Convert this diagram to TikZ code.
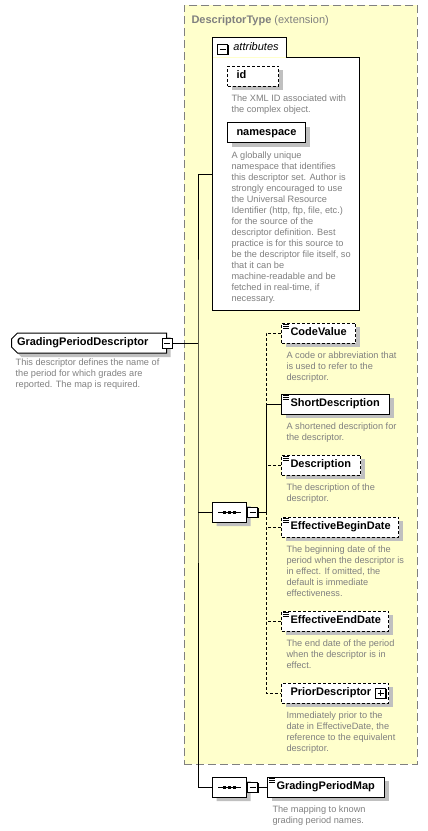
\documentclass[tikz,border=0pt]{standalone}
\usepackage{fontspec}
\setmainfont{Liberation Sans}
\usetikzlibrary{positioning}
\usetikzlibrary{shapes.misc}
\usetikzlibrary{shadows}

\definecolor{extfill}{HTML}{FFFFCC}
\definecolor{extline}{HTML}{808080}
\definecolor{descgray}{HTML}{808080}
\definecolor{shade}{HTML}{C0C0C0}

\newcommand{\namefont}{\fontsize{11}{13}\selectfont\bfseries\hyphenpenalty=10000}
\newcommand{\descfont}{\fontsize{9.2}{11}\selectfont\hyphenpenalty=10000}

\begin{document}
\begin{tikzpicture}[x=1pt, y=-1pt, line width=1pt,
    elem/.style={rectangle, draw=black, fill=white, minimum height=20pt,
      inner xsep=9pt, inner ysep=0pt, text width=#1, align=left, font=\namefont,
      text height=8pt, text depth=2.5pt,
      drop shadow={shadow xshift=4pt, shadow yshift=-4pt, fill=shade, opacity=1}},
    optional/.style={dash pattern=on 3pt off 2pt},
    desc/.style={inner sep=0pt, align=left, text=descgray, font=\descfont},
    toggle/.style={rectangle, draw=black, fill=white, minimum size=10pt, inner sep=0pt,
      drop shadow={shadow xshift=1pt, shadow yshift=-1pt, fill=black, opacity=1}},
    minusbox/.style={toggle, path picture={
      \draw ([xshift=2pt]path picture bounding box.west) -- ([xshift=-2pt]path picture bounding box.east);}},
    plusbox/.style={toggle, path picture={
      \draw ([xshift=2pt]path picture bounding box.west) -- ([xshift=-2pt]path picture bounding box.east);
      \draw ([yshift=-2pt]path picture bounding box.north) -- ([yshift=2pt]path picture bounding box.south);}},
    seq/.style={chamfered rectangle, chamfered rectangle sep=6pt, draw=black, fill=white,
      minimum width=34pt, minimum height=20pt, inner sep=0pt,
      drop shadow={shadow xshift=4pt, shadow yshift=-4pt, fill=shade, opacity=1}}]

  \useasboundingbox (0,0) rectangle (428,831);

  % extension box
  \node[draw=extline, fill=extfill, dash pattern=on 8pt off 4pt, line width=0.8pt,
    minimum width=233pt, minimum height=759pt, inner sep=0pt, anchor=north west] (ext) at (184,5) {};
  \node[inner sep=0pt, text=descgray, font=\namefont, below right=10pt and 7pt of ext.north west]
    (exttitle) {DescriptorType \textmd{(extension)}};

  % attributes
  \node[fill=white, minimum width=146pt, minimum height=252pt, inner sep=0pt, anchor=north west] (attr) at (212,57) {};
  \node[fill=white, minimum width=73pt, minimum height=19pt, inner sep=0pt, anchor=south west,
    font=\fontsize{11}{13}\selectfont\itshape] (attrtab) at (attr.north west) {\hspace*{14pt}attributes};
  \draw (attr.south west) |- (attrtab.north east) |- (attr.north east) |- (attr.south west) -- cycle;
  \node[minusbox] (attrm) at (222.5,49) {};

  \node[elem=33pt, optional, anchor=west] (id) at (227,76) {id};
  \node[desc, below right=8pt and 4pt of id.south west] (idd)
    {The XML ID associated with\\the complex object.};
  \node[elem=60pt, anchor=west] (ns) at (227,132.5) {namespace};
  \node[desc, below right=8pt and 4pt of ns.south west] (nsd)
    {A globally unique\\namespace that identifies\\this descriptor set. Author is\\strongly encouraged to use\\the Universal Resource\\Identifier (http, ftp, file, etc.)\\for the source of the\\descriptor definition. Best\\practice is for this source to\\be the descriptor file itself, so\\that it can be\\machine-readable and be\\fetched in real-time, if\\necessary.};

  % root element
  \node[chamfered rectangle, chamfered rectangle corners={north west, south west},
    chamfered rectangle sep=3pt, draw=black, fill=white, minimum width=155pt, minimum height=20pt,
    inner xsep=0pt, inner ysep=0pt, text width=144pt, align=left, font=\namefont,
    text height=8pt, text depth=2.5pt,
    drop shadow={shadow xshift=4pt, shadow yshift=-4pt, fill=shade, opacity=1},
    anchor=west] (gpd) at (11,343) {GradingPeriodDescriptor};
  \node[minusbox] (gpdm) at (gpd.east) {};
  \node[desc, below right=8pt and 1pt of gpd.south west] (gpdd)
    {This descriptor defines the name of\\the period for which grades are\\reported. The map is required.};

  % sequences
  \node[seq, anchor=west] (s1) at (212,512) {};
  \node[minusbox, anchor=west] (s1m) at (s1.east) {};
  \node[seq, anchor=west] (s2) at (212,787) {};
  \node[minusbox, anchor=west] (s2m) at (s2.east) {};
  \foreach \s in {s1,s2} {
    \draw ([xshift=6pt]\s.west) -- ([xshift=-6pt]\s.east);
    \foreach \dx in {-5,0,5}
      \fill ([xshift=\dx pt]\s.center) +(-1.5,-1.5) rectangle +(1.5,1.5);
  }

  % children
  \node[elem=56pt, optional, anchor=west] (cv) at (281,333) {CodeValue};
  \node[desc, below right=8pt and 5pt of cv.south west] (cvd)
    {A code or abbreviation that\\is used to refer to the\\descriptor.};
  \node[elem=90pt, anchor=west] (sd) at (281,404) {ShortDescription};
  \node[desc, below right=8pt and 5pt of sd.south west] (sdd)
    {A shortened description for\\the descriptor.};
  \node[elem=61pt, optional, anchor=west] (de) at (281,465) {Description};
  \node[desc, below right=8pt and 5pt of de.south west] (ded)
    {The description of the\\descriptor.};
  \node[elem=99pt, optional, anchor=west] (ebd) at (281,527) {EffectiveBeginDate};
  \node[desc, below right=8pt and 5pt of ebd.south west] (ebdd)
    {The beginning date of the\\period when the descriptor is\\in effect. If omitted, the\\default is immediate\\effectiveness.};
  \node[elem=89pt, optional, anchor=west] (eed) at (281,621) {EffectiveEndDate};
  \node[desc, below right=8pt and 5pt of eed.south west] (eedd)
    {The end date of the period\\when the descriptor is in\\effect.};
  \node[elem=89pt, optional, anchor=west] (pd) at (281,693) {PriorDescriptor};
  \node[plusbox, left=3pt of pd.east] (pdp) {};
  \node[desc, below right=8pt and 5pt of pd.south west] (pdd)
    {Immediately prior to the\\date in EffectiveDate, the\\reference to the equivalent\\descriptor.};
  \node[elem=99pt, anchor=west] (gpm) at (267,787) {GradingPeriodMap};
  \node[desc, below right=8pt and 5pt of gpm.south west] (gpmd)
    {The mapping to known\\grading period names.};

  \foreach \n in {cv,sd,de,ebd,eed,gpm}
    \foreach \dy in {2,4,6}
      \draw[line width=0.6pt] ([xshift=2pt, yshift=-\dy pt]\n.north west) -- ++(6,0);

  % connectors
  \coordinate (trunk) at (198,343);
  \coordinate (spine) at (266,512);
  \draw (gpdm.east) -- (trunk);
  \draw ([yshift=9pt]attr.west) -| (trunk) |- (s2.west);
  \draw (s1.west) -- (s1.west -| trunk);
  \draw (s1m.east) -- (spine);
  \draw (sd.west) -- (sd.west -| spine) -- (spine);
  \draw[optional] (cv.west) -- (cv.west -| spine) -- (sd.west -| spine);
  \draw[optional] (spine) |- (pd.west);
  \foreach \n in {de,ebd,eed}
    \draw[optional] (\n.west) -- (\n.west -| spine);
  \draw (s2m.east) -- (gpm.west);
\end{tikzpicture}
\end{document}
